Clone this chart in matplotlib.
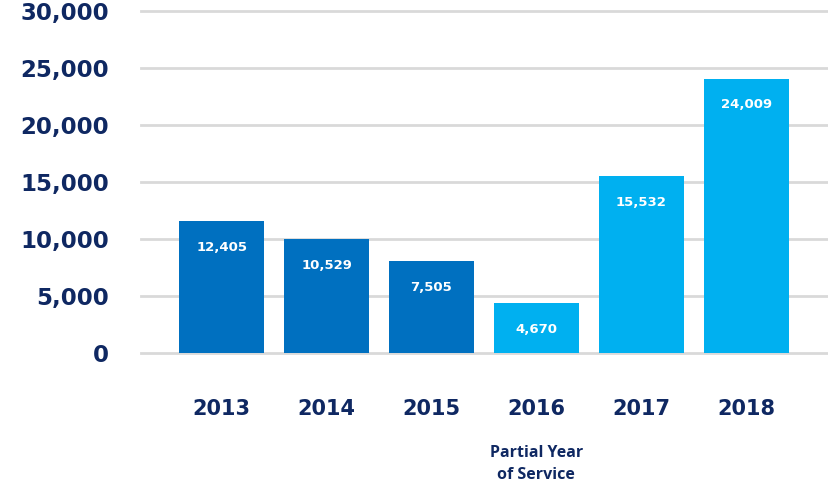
import matplotlib
matplotlib.use("Agg")
import matplotlib.pyplot as plt

# Data (bar heights as drawn, labels as printed)
years = ["2013", "2014", "2015", "2016", "2017", "2018"]
heights = [11570, 10000, 8060, 4370, 15550, 24080]
value_labels = ["12,405", "10,529", "7,505", "4,670", "15,532", "24,009"]
bar_colors = ["#0070C0", "#0070C0", "#0070C0", "#00B0F0", "#00B0F0", "#00B0F0"]
yticks = [0, 5000, 10000, 15000, 20000, 25000, 30000]

navy = "#0F2862"

fig = plt.figure(figsize=(8.29, 4.83), dpi=100)
ax = fig.add_axes([0.170, 0.2698, 0.830, 0.707])

x = range(len(years))
bars = ax.bar(x, heights, width=0.81, color=bar_colors, zorder=2)

# Value labels inside bars, near the top
for b, lab in zip(bars, value_labels):
    ax.annotate(lab, (b.get_x() + b.get_width() / 2, b.get_height()),
                xytext=(0, -19), textcoords="offset points",
                ha="center", va="center", color="white",
                fontsize=9.5, fontweight="bold")

ax.set_ylim(0, 30000)
ax.set_xlim(-0.77, 5.79)
ax.set_yticks(yticks)
ax.set_yticklabels([f"{v:,}" for v in yticks], fontsize=16.5,
                   fontweight="bold", color=navy)
ax.set_xticks(list(x))
ax.set_xticklabels(years, fontsize=15, fontweight="bold", color=navy)
ax.tick_params(axis="y", length=0, pad=23)
ax.tick_params(axis="x", length=0, pad=33)

ax.yaxis.grid(True, color="#D9D9D9", linewidth=2, zorder=0)
ax.set_axisbelow(True)
for line in ax.get_ygridlines():
    line.set_clip_on(False)
for s in ax.spines.values():
    s.set_visible(False)

# Note under 2016
ax.annotate("Partial Year\nof Service", (3, 0), xytext=(0, -66.5),
            textcoords="offset points", ha="center", va="top",
            fontsize=11.5, fontweight="bold", color=navy,
            family="Open Sans", linespacing=1.5)

fig.savefig("out.png", dpi=100)
